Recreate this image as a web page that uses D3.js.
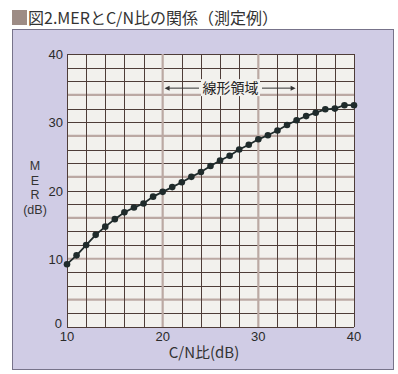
<!DOCTYPE html>
<html>
<head>
<meta charset="utf-8">
<script src="https://cdn.jsdelivr.net/npm/d3@7"></script>
<style>
  body { margin: 0; background: #fff; }
  svg { display: block; }
  text { font-family: "Liberation Sans", Arial, "Noto Sans CJK JP", sans-serif; fill: #2a2a2a; }
  .jp { font-family: "Noto Sans CJK JP", sans-serif; }
</style>
</head>
<body>
<svg id="chart" width="398" height="374"></svg>
<script>
// C/N ratio (dB) and measured MER (dB)
const cnValues = d3.range(10, 41);
const merValues = [9.2, 10.5, 12.0, 13.5, 14.7, 15.8, 16.8, 17.5, 18.1, 19.1,
  19.8, 20.5, 21.2, 22.0, 22.7, 23.6, 24.4, 25.1, 26.0, 26.7,
  27.5, 28.1, 28.8, 29.6, 30.3, 30.9, 31.4, 31.9, 32.0, 32.5, 32.5];
const xTicks = [10, 20, 30, 40];
const yTicks = [0, 10, 20, 30, 40];
const linearRange = [20.2, 33.9];
const linearLabelY = 35;

const data = cnValues.map((c, i) => ({ cn: c, mer: merValues[i] }));

const svg = d3.select("#chart");
const x = d3.scaleLinear().domain([10, 40]).range([67, 354]);
const y = d3.scaleLinear().domain([0, 40]).range([327, 54]);

// panel
svg.append("rect")
  .attr("x", 12.5).attr("y", 29.5).attr("width", 381).attr("height", 340)
  .attr("fill", "#d0cce5").attr("stroke", "#77738a");

// title
svg.append("rect").attr("x", 12).attr("y", 10).attr("width", 15).attr("height", 15).attr("fill", "#9d8c85");
svg.append("text").attr("class", "jp")
  .attr("x", 28).attr("y", 24)
  .attr("font-size", 16).style("fill", "#333")
  .text("図2.MERとC/N比の関係（測定例）");

// plot background
svg.append("rect")
  .attr("x", x(10)).attr("y", y(40))
  .attr("width", x(40) - x(10)).attr("height", y(0) - y(40))
  .attr("fill", "#f2f1ed");

const grid = svg.append("g");
const vLines = d3.range(10, 41, 2);
const hLines = d3.range(0, 41, 2);
const isGrayV = (v) => v === 20 || v === 30;
const isGrayH = (v) => v > 0 && v < 40 && (v - 4) % 6 === 0;

grid.selectAll(".hg").data(hLines.filter(isGrayH)).join("line")
  .attr("x1", x(10)).attr("x2", x(40))
  .attr("y1", (d) => y(d)).attr("y2", (d) => y(d))
  .attr("stroke", "#bba9a3").attr("stroke-width", 2.2);
grid.selectAll(".hd").data(hLines.filter((v) => !isGrayH(v))).join("line")
  .attr("x1", x(10)).attr("x2", x(40))
  .attr("y1", (d) => Math.round(y(d)) + 0.5).attr("y2", (d) => Math.round(y(d)) + 0.5)
  .attr("stroke", "#4e3d38").attr("stroke-width", 1);
grid.selectAll(".vd").data(vLines.filter((v) => !isGrayV(v))).join("line")
  .attr("y1", y(0)).attr("y2", y(40))
  .attr("x1", (d) => Math.round(x(d)) + 0.5).attr("x2", (d) => Math.round(x(d)) + 0.5)
  .attr("stroke", "#4e3d38").attr("stroke-width", 1);
grid.selectAll(".vg").data(vLines.filter(isGrayV)).join("line")
  .attr("y1", y(0)).attr("y2", y(40))
  .attr("x1", (d) => x(d)).attr("x2", (d) => x(d))
  .attr("stroke", "#bba9a3").attr("stroke-width", 2.2);

// linear region annotation
const ann = svg.append("g");
const ay = y(linearLabelY);
ann.append("rect").attr("x", 201).attr("y", ay - 9).attr("width", 59).attr("height", 17).attr("fill", "#f2f1ed");
ann.append("line").attr("x1", x(linearRange[0]) + 4).attr("x2", 199).attr("y1", ay).attr("y2", ay)
  .attr("stroke", "#333").attr("stroke-width", 1);
ann.append("line").attr("x1", 262).attr("x2", x(linearRange[1]) - 4).attr("y1", ay).attr("y2", ay)
  .attr("stroke", "#333").attr("stroke-width", 1);
ann.append("path")
  .attr("d", `M${x(linearRange[0])},${ay}l5,-2.5v5z`).attr("fill", "#333");
ann.append("path")
  .attr("d", `M${x(linearRange[1])},${ay}l-5,-2.5v5z`).attr("fill", "#333");
ann.append("text").attr("class", "jp")
  .attr("x", 230.5).attr("y", ay + 5).attr("text-anchor", "middle")
  .attr("font-size", 14).style("fill", "#222")
  .text("線形領域");

// data line and points
svg.append("path").datum(data)
  .attr("fill", "none").attr("stroke", "#1f2b2b").attr("stroke-width", 1.8)
  .attr("d", d3.line().x((d) => x(d.cn)).y((d) => y(d.mer)));
svg.selectAll(".pt").data(data).join("circle")
  .attr("cx", (d) => x(d.cn)).attr("cy", (d) => y(d.mer)).attr("r", 3.3)
  .attr("fill", "#1f2b2b");

// tick labels
svg.selectAll(".yt").data(yTicks).join("text")
  .attr("x", (d) => d === 0 ? 62 : 63).attr("y", (d) => y(d) + (d === 0 ? 1 : 5))
  .attr("text-anchor", "end").attr("font-size", 13)
  .text((d) => d);
svg.selectAll(".xt").data(xTicks).join("text")
  .attr("x", (d) => x(d)).attr("y", 341)
  .attr("text-anchor", "middle").attr("font-size", 13)
  .text((d) => d);

// axis titles
svg.append("text").attr("class", "jp")
  .attr("x", 204).attr("y", 358).attr("text-anchor", "middle")
  .attr("font-size", 15).style("fill", "#333")
  .text("C/N比(dB)");
svg.selectAll(".yl").data(["M", "E", "R", "(dB)"]).join("text")
  .attr("x", 35).attr("y", (d, i) => 170 + i * 14.5)
  .attr("text-anchor", "middle").attr("font-size", 12.5).style("fill", "#333")
  .text((d) => d);
</script>
</body>
</html>
